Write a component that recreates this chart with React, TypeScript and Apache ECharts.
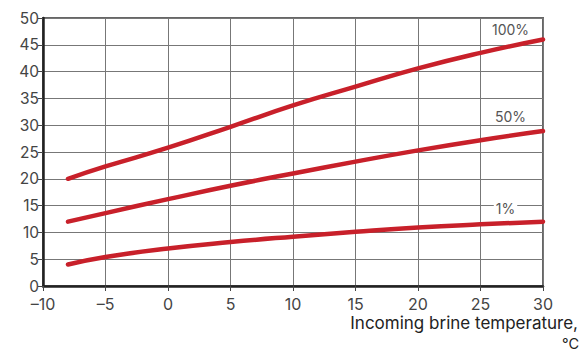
import React, { useEffect, useRef } from "react";
import * as echarts from "echarts";

const xValues = [-8, -5, 0, 5, 10, 15, 20, 25, 30];
const series100 = [20, 22.3, 25.8, 29.7, 33.7, 37.2, 40.6, 43.5, 46];
const series50 = [12, 13.6, 16.2, 18.7, 21.0, 23.2, 25.3, 27.2, 28.9];
const series1 = [4, 5.4, 7.0, 8.2, 9.2, 10.1, 10.9, 11.5, 12];
const seriesNames = ["100%", "50%", "1%"];
const labelCoords: [number, number][] = [
  [27.4, 47.9],
  [27.4, 31.6],
  [27.0, 14.4],
];
const xAxisTitle = ["Incoming brine temperature,", "°C"];

const RED = "#c8202a";
const FONT = "Inter, Roboto, sans-serif";

export default function App() {
  const ref = useRef<HTMLDivElement>(null);
  useEffect(() => {
    if (!ref.current) return;
    const chart = echarts.init(ref.current, undefined, { renderer: "svg" });
    const datasets = [series100, series50, series1];
    chart.setOption({
      animation: false,
      textStyle: { fontFamily: FONT },
      grid: {
        left: 43,
        right: 40,
        top: 18,
        bottom: 67,
        show: true,
        borderColor: "#666",
        borderWidth: 2,
      },
      xAxis: {
        type: "value",
        min: -10,
        max: 30,
        interval: 5,
        axisLine: { show: true, onZero: false, lineStyle: { color: "#222", width: 2.5 } },
        axisTick: { show: true, length: 5, lineStyle: { color: "#444", width: 1 } },
        axisLabel: {
          color: "#444",
          fontSize: 16,
          lineHeight: 16,
          margin: 10,
          formatter: (v: number) => String(v).replace("-", "\u2013"),
        },
        splitLine: { show: true, lineStyle: { color: "#777", width: 1 } },
      },
      yAxis: {
        type: "value",
        min: 0,
        max: 50,
        interval: 5,
        axisLine: { show: true, onZero: false, lineStyle: { color: "#222", width: 2.5 } },
        axisTick: { show: true, length: 5, lineStyle: { color: "#444", width: 1 } },
        axisLabel: { color: "#444", fontSize: 15.5, lineHeight: 14, margin: 4 },
        splitLine: { show: true, lineStyle: { color: "#777", width: 1 } },
      },
      series: datasets.map((d, i) => ({
        name: seriesNames[i],
        type: "line",
        smooth: true,
        showSymbol: false,
        symbol: "none",
        data: d.map((y, j) => [xValues[j], y]),
        lineStyle: { color: RED, width: 4.5, cap: "round" },
        z: 5,
        markPoint: {
          symbol: "rect",
          symbolSize: 0,
          data: [{ coord: labelCoords[i], value: seriesNames[i] }],
          label: {
            show: true,
            position: "inside",
            formatter: seriesNames[i],
            color: "#555",
            fontSize: 14,
            backgroundColor: "#fff",
            padding: [0, 2],
          },
        },
      })),
      graphic: [
        {
          type: "text",
          right: 5,
          top: 314,
          style: { text: xAxisTitle[0], fill: "#222", fontSize: 17, lineHeight: 17, fontFamily: FONT, align: "right" },
        },
        {
          type: "text",
          right: 4,
          top: 336,
          style: { text: xAxisTitle[1], fill: "#222", fontSize: 14.5, lineHeight: 15, fontFamily: FONT, align: "right" },
        },
      ],
    });
    return () => chart.dispose();
  }, []);
  return <div ref={ref} style={{ width: 583, height: 353, position: "absolute", left: 0, top: 0 }} />;
}
